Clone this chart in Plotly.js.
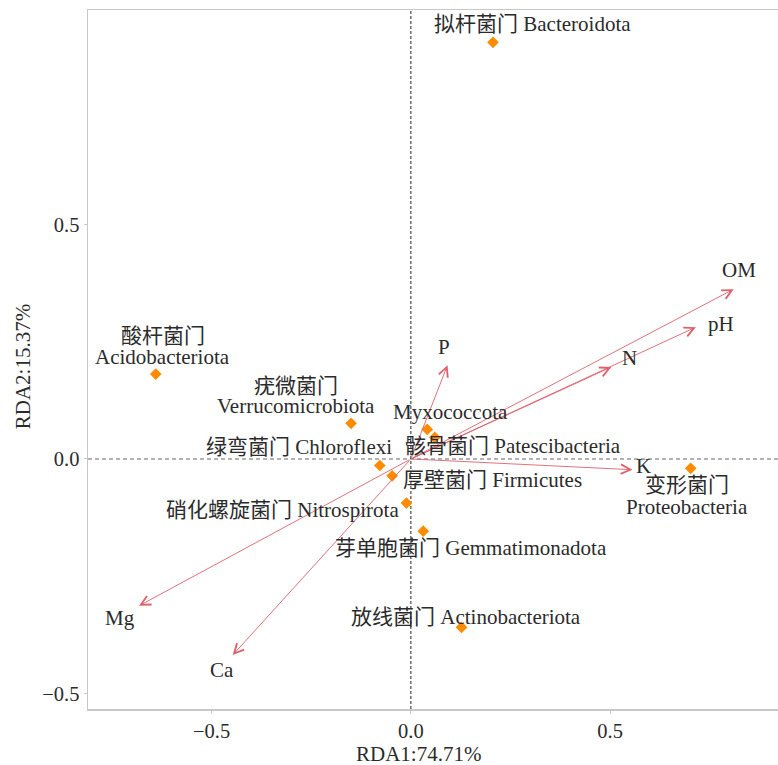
<!DOCTYPE html>
<html><head><meta charset="utf-8">
<script src="https://cdn.plot.ly/plotly-3.0.1.min.js"></script>
<style>html,body{margin:0;padding:0;background:#fff}</style>
</head><body><div id="chart" style="width:778px;height:765px"></div>
<script>
// ---- data ----
const taxaCN = ['拟杆菌门','酸杆菌门','疣微菌门','绿弯菌门','厚壁菌门','','骸骨菌门','硝化螺旋菌门','芽单胞菌门','放线菌门','变形菌门'];
const taxaLatin = ['Bacteroidota','Acidobacteriota','Verrucomicrobiota','Chloroflexi','Firmicutes','Myxococcota','Patescibacteria','Nitrospirota','Gemmatimonadota','Actinobacteriota','Proteobacteria'];
const taxaRDA1 = [0.206,-0.640,-0.150,-0.078,-0.047,0.041,0.060,-0.011,0.031,0.127,0.702];
const taxaRDA2 = [0.888,0.181,0.076,-0.014,-0.036,0.063,0.046,-0.094,-0.154,-0.359,-0.020];
const envVars = ['OM','pH','N','P','K','Mg','Ca'];
const envRDA1 = [0.810,0.715,0.503,0.092,0.556,-0.682,-0.447];
const envRDA2 = [0.362,0.281,0.196,0.200,-0.023,-0.313,-0.418];
const tickVals = [-0.5,0,0.5];
const tickText = ['\u22120.5','0.0','0.5'];
const xTitle = 'RDA1:74.71%';
const yTitle = 'RDA2:15.37%';

// ---- layout / styling (pixel offsets of labels) ----
const taxaLabelPos = [
  {lines:1, dx:40, dy:18},
  {lines:2, dx:7, dy1:38, dy2:17},
  {lines:2, dx:-55, dy1:37, dy2:17},
  {lines:1, dx:-81, dy:19},
  {lines:1, dx:100, dy:-4},
  {lines:1, dx:23, dy:17},
  {lines:1, dx:78, dy:-9},
  {lines:1, dx:-124, dy:-7},
  {lines:1, dx:48, dy:-17},
  {lines:1, dx:4, dy:10},
  {lines:2, dx:-4, dy1:-17, dy2:-39}
];
const envLabelShift = [[5,19],[25,3],[18,9],[-4,18],[11,4],[-19,-12],[-11,-15]];

const FONT = "'Liberation Serif', 'Noto Sans CJK SC', serif";
const TXT = '#2b2b2b';
const ARROW = '#e0606c';
const FS = 21;

const annotations = [];
// environmental arrows
envVars.forEach((v,i)=>{
  annotations.push({x:envRDA1[i], y:envRDA2[i], ax:0, ay:0, xref:'x', yref:'y', axref:'x', ayref:'y',
    showarrow:true, arrowhead:5, arrowsize:2.1, arrowwidth:0.9, arrowcolor:ARROW, standoff:0, text:''});
  annotations.push({x:envRDA1[i], y:envRDA2[i], xref:'x', yref:'y', showarrow:false, text:v,
    xshift:envLabelShift[i][0], yshift:envLabelShift[i][1], font:{family:FONT, size:FS, color:TXT}});
});
// taxa labels
taxaLatin.forEach((t,i)=>{
  const p = taxaLabelPos[i];
  if(p.lines===1){
    const txt = taxaCN[i] ? taxaCN[i]+' '+t : t;
    annotations.push({x:taxaRDA1[i], y:taxaRDA2[i], xref:'x', yref:'y', showarrow:false, text:txt,
      xshift:p.dx, yshift:p.dy, font:{family:FONT, size:FS, color:TXT}});
  } else {
    annotations.push({x:taxaRDA1[i], y:taxaRDA2[i], xref:'x', yref:'y', showarrow:false, text:taxaCN[i],
      xshift:p.dx, yshift:p.dy1, borderpad:0, font:{family:FONT, size:FS, color:TXT}});
    annotations.push({x:taxaRDA1[i], y:taxaRDA2[i], xref:'x', yref:'y', showarrow:false, text:t,
      xshift:p.dx, yshift:p.dy2, borderpad:0, font:{family:FONT, size:FS, color:TXT}});
  }
});
// axis titles
annotations.push({xref:'paper', yref:'paper', x:0.4797, y:-0.0644, xanchor:'center', yanchor:'middle',
  borderpad:0, showarrow:false, text:xTitle, font:{family:FONT, size:FS, color:TXT}});
annotations.push({xref:'paper', yref:'paper', x:-0.0949, y:0.4897, xanchor:'center', yanchor:'middle',
  showarrow:false, text:yTitle, textangle:-90, font:{family:FONT, size:FS, color:TXT}});

const traces = [{
  type:'scatter', mode:'markers', x:taxaRDA1, y:taxaRDA2, text:taxaLatin,
  marker:{symbol:'diamond', size:9, color:'#ff8c00', line:{width:0}}, hoverinfo:'text', showlegend:false
}];

const axisCommon = {showgrid:false, zeroline:false, showline:true, linecolor:'#c8c8c8', linewidth:1.5,
  ticks:'outside', ticklen:3, tickcolor:'#c8c8c8', tickvals:tickVals, ticktext:tickText,
  tickfont:{family:FONT, size:20.5, color:TXT}};

const layout = {
  width:778, height:765, margin:{l:88, r:0, t:10, b:56},
  paper_bgcolor:'#fff', plot_bgcolor:'#fff', showlegend:false,
  xaxis:Object.assign({}, axisCommon, {range:[-0.810, 0.921], mirror:true}),
  yaxis:Object.assign({}, axisCommon, {range:[-0.533, 0.957]}),
  shapes:[
    {type:'line', xref:'paper', x0:0, x1:1, yref:'y', y0:0, y1:0, layer:'below',
     line:{color:'#999', width:1.5, dash:'4px,3px'}},
    {type:'line', yref:'paper', y0:0, y1:1, xref:'x', x0:0, x1:0, layer:'below',
     line:{color:'#222', width:1, dash:'3px,2px'}}
  ],
  annotations:annotations
};
Plotly.newPlot('chart', traces, layout, {displayModeBar:false, staticPlot:true});
</script></body></html>
